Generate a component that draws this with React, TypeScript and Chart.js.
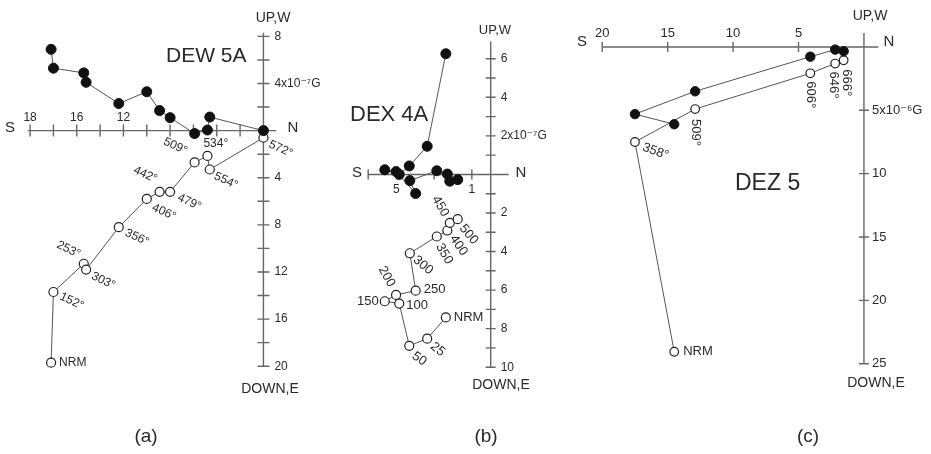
import { useEffect, useRef } from 'react';
import { Chart, registerables } from 'chart.js';
Chart.register(...registerables);

const PAGE_H = 454;
const FONT = '"Liberation Sans", "DejaVu Sans", Arial, sans-serif';
const TEXT_COLOR = '#2a2a2a';
const AXIS_COLOR = '#666';
const LINE_COLOR = '#555';

// ---------- (a) DEW 5A : units 1e-7 G ----------
const stepsA = ['NRM', '152°', '253°', '303°', '356°', '406°', '442°', '479°', '509°', '534°', '554°', '572°'];
const northA = [-18.2, -18.0, -15.4, -15.2, -12.4, -10.0, -8.9, -8.0, -5.9, -4.8, -4.6, 0];
const westA = [6.9, 5.3, 4.9, 4.1, 2.3, 3.3, 1.7, 1.1, -0.25, 0.05, 1.15, 0];
const upA = [-19.7, -13.7, -11.3, -11.8, -8.2, -5.8, -5.2, -5.2, -2.7, -2.15, -3.3, -0.6];
const xTicksA = [-20, -18, -16, -14, -12, -10, -8, -6, -4, -2];
const yTicksA = [8, 6, 4, 2, -2, -4, -6, -8, -10, -12, -14, -16, -18, -20];
const xLabelValsA = [-20, -16, -12];
const xLabelTextsA = ['18', '16', '12'];
const yLabelValsA = [8, 4, -4, -8, -12, -16, -20];
const yLabelTextsA = ['8', '4x10⁻⁷G', '4', '8', '12', '16', '20'];

// ---------- (b) DEX 4A : units 1e-7 G ----------
const stepsB = ['NRM', '25', '50', '100', '150', '200', '250', '300', '350', '400', '450', '500'];
const northB = [-2.38, -3.37, -4.32, -4.85, -5.62, -5.02, -3.98, -4.29, -2.86, -2.3, -2.17, -1.75];
const westB = [6.26, 1.46, 0.44, 0.0, 0.24, 0.15, -0.99, -0.32, 0.19, 0.02, -0.35, -0.27];
const upB = [-7.42, -8.52, -8.89, -6.7, -6.58, -6.25, -6.03, -4.09, -3.22, -2.91, -2.51, -2.32];
const xTicksB = [-6.5, -5, -3, -1];
const yTicksB = [6, 5, 4, 3, 2, 1, -1, -2, -3, -4, -5, -6, -7, -8, -9, -10];
const xLabelValsB = [-5, -1];
const xLabelTextsB = ['5', '1'];
const yLabelValsB = [6, 4, 2, -2, -4, -6, -8, -10];
const yLabelTextsB = ['6', '4', '2x10⁻⁷G', '2', '4', '6', '8', '10'];

// ---------- (c) DEZ 5 : units 1e-6 G ----------
const stepsC = ['NRM', '358°', '509°', '606°', '646°', '666°'];
const northC = [-14.5, -17.5, -12.9, -4.1, -2.2, -1.55];
const westC = [-6.1, -5.3, -3.5, -0.77, -0.21, -0.34];
const upC = [-24.05, -7.5, -4.9, -2.08, -1.31, -1.05];
const xTicksC = [-20, -15, -10, -5];
const yTicksC = [-5, -10, -15, -20, -25];
const xLabelValsC = [-20, -15, -10, -5];
const xLabelTextsC = ['20', '15', '10', '5'];
const yLabelValsC = [-5, -10, -15, -20, -25];
const yLabelTextsC = ['5x10⁻⁶G', '10', '15', '20', '25'];

type Lbl = [number, number, number, CanvasTextAlign]; // dx, dy, rotation(deg), align
interface Txt { t: string; x: number; y: number; size: number; align: CanvasTextAlign }
interface Panel {
  key: string; left: number; width: number; ox: number; oy: number; sx: number; sy: number;
  steps: string[]; north: number[]; west: number[]; up: number[];
  labelPos: Lbl[]; stepFont: number; radius: number; openRadius: number;
  xAxis: [number, number]; yAxis: [number, number];
  xTicks: number[]; yTicks: number[]; tickHalf: number;
  xLabelVals: number[]; xLabelTexts: string[]; xLabelDy: number;
  yLabelVals: number[]; yLabelTexts: string[]; yLabelDx: number; tickFont: number;
  texts: Txt[];
}

const panels: Panel[] = [
  {
    key: 'a', left: 0, width: 335, ox: 267, oy: 128, sx: 12.1, sy: 12.1,
    steps: stepsA, north: northA, west: westA, up: upA,
    labelPos: [
      [8, 0, 0, 'left'], [7, 4, 25, 'left'], [-4, -9, 25, 'right'], [6, 6, 25, 'left'],
      [7, 5, 25, 'left'], [6, 8, 25, 'left'], [-3, -12, 25, 'right'], [8, 5, 25, 'left'],
      [-8, -11, 25, 'right'], [-4, -12, 0, 'left'], [5, 6, 25, 'left'], [6, 6, 25, 'left'],
    ],
    stepFont: 12, radius: 5, openRadius: 4.5,
    xAxis: [-20.2, 1.1], yAxis: [-20, 8.3], xTicks: xTicksA, yTicks: yTicksA, tickHalf: 6,
    xLabelVals: xLabelValsA, xLabelTexts: xLabelTextsA, xLabelDy: -13,
    yLabelVals: yLabelValsA, yLabelTexts: yLabelTextsA, yLabelDx: 11, tickFont: 12,
    texts: [
      { t: 'S', x: 10, y: 128, size: 15, align: 'center' },
      { t: 'N', x: 293, y: 128, size: 15, align: 'center' },
      { t: 'UP,W', x: 273, y: 18, size: 14, align: 'center' },
      { t: 'DOWN,E', x: 270, y: 389, size: 14, align: 'center' },
      { t: 'DEW 5A', x: 166, y: 56, size: 21, align: 'left' },
      { t: '(a)', x: 146, y: 437, size: 19, align: 'center' },
    ],
  },
  {
    key: 'b', left: 320, width: 250, ox: 493, oy: 173, sx: 19.8, sy: 19.8,
    steps: stepsB, north: northB, west: westB, up: upB,
    labelPos: [
      [8, 0, 0, 'left'], [5, 6, 40, 'left'], [4, 9, 35, 'left'], [7, 2, 0, 'left'],
      [-6, 0, 0, 'right'], [-4, -9, 60, 'right'], [8, -1, 0, 'left'], [5, 5, 40, 'left'],
      [2, 8, 60, 'left'], [5, 6, 55, 'left'], [-4, -7, 60, 'right'], [4, 7, 50, 'left'],
    ],
    stepFont: 13, radius: 5, openRadius: 4.5,
    xAxis: [-6.5, 0.95], yAxis: [-10, 6.9], xTicks: xTicksB, yTicks: yTicksB, tickHalf: 5,
    xLabelVals: xLabelValsB, xLabelTexts: xLabelTextsB, xLabelDy: 15,
    yLabelVals: yLabelValsB, yLabelTexts: yLabelTextsB, yLabelDx: 10, tickFont: 12,
    texts: [
      { t: 'S', x: 357, y: 173, size: 15, align: 'center' },
      { t: 'N', x: 521, y: 173, size: 15, align: 'center' },
      { t: 'UP,W', x: 495, y: 30, size: 13, align: 'center' },
      { t: 'DOWN,E', x: 501, y: 385, size: 14, align: 'center' },
      { t: 'DEX 4A', x: 350, y: 115, size: 22, align: 'left' },
      { t: '(b)', x: 486, y: 437, size: 19, align: 'center' },
    ],
  },
  {
    key: 'c', left: 560, width: 371, ox: 867.7, oy: 42.3, sx: 13.5, sy: 13.0,
    steps: stepsC, north: northC, west: westC, up: upC,
    labelPos: [
      [9, 0, 0, 'left'], [8, 5, 20, 'left'], [0, 10, 90, 'left'], [0, 8, 90, 'left'],
      [-2, 8, 90, 'left'], [3, 9, 90, 'left'],
    ],
    stepFont: 13, radius: 4.7, openRadius: 4.3,
    xAxis: [-20, 1.1], yAxis: [-25, 1.1], xTicks: xTicksC, yTicks: yTicksC, tickHalf: 5,
    xLabelVals: xLabelValsC, xLabelTexts: xLabelTextsC, xLabelDy: -14,
    yLabelVals: yLabelValsC, yLabelTexts: yLabelTextsC, yLabelDx: 8, tickFont: 13,
    texts: [
      { t: 'S', x: 582, y: 42, size: 15, align: 'center' },
      { t: 'N', x: 889, y: 42, size: 15, align: 'center' },
      { t: 'UP,W', x: 870, y: 16, size: 14, align: 'center' },
      { t: 'DOWN,E', x: 876, y: 383, size: 14, align: 'center' },
      { t: 'DEZ 5', x: 735, y: 184, size: 23, align: 'left' },
      { t: '(c)', x: 808, y: 437, size: 19, align: 'center' },
    ],
  },
];

function makePlugin(p: Panel) {
  return {
    id: 'zij_' + p.key,
    beforeDatasetsDraw(chart: any) {
      const ctx: CanvasRenderingContext2D = chart.ctx;
      const X = (v: number) => chart.scales.x.getPixelForValue(v);
      const Y = (v: number) => chart.scales.y.getPixelForValue(v);
      const x0 = X(0), y0 = Y(0);
      ctx.save();
      ctx.strokeStyle = AXIS_COLOR;
      ctx.lineWidth = 1.4;
      ctx.beginPath();
      ctx.moveTo(X(p.xAxis[0]), y0); ctx.lineTo(X(p.xAxis[1]), y0);
      ctx.moveTo(x0, Y(p.yAxis[1])); ctx.lineTo(x0, Y(p.yAxis[0]));
      p.xTicks.forEach(v => { ctx.moveTo(X(v), y0 - p.tickHalf); ctx.lineTo(X(v), y0 + p.tickHalf); });
      p.yTicks.forEach(v => { ctx.moveTo(x0 - p.tickHalf, Y(v)); ctx.lineTo(x0 + p.tickHalf, Y(v)); });
      ctx.stroke();
      ctx.fillStyle = TEXT_COLOR;
      ctx.font = `${p.tickFont}px ${FONT}`;
      ctx.textBaseline = 'middle';
      ctx.textAlign = 'center';
      p.xLabelVals.forEach((v, i) => ctx.fillText(p.xLabelTexts[i], X(v), y0 + p.xLabelDy));
      ctx.textAlign = 'left';
      p.yLabelVals.forEach((v, i) => ctx.fillText(p.yLabelTexts[i], x0 + p.yLabelDx, Y(v)));
      p.texts.forEach(t => {
        ctx.font = `${t.size}px ${FONT}`;
        ctx.textAlign = t.align;
        ctx.fillText(t.t, t.x - p.left, t.y);
      });
      ctx.restore();
    },
    afterDatasetsDraw(chart: any) {
      const ctx: CanvasRenderingContext2D = chart.ctx;
      const X = (v: number) => chart.scales.x.getPixelForValue(v);
      const Y = (v: number) => chart.scales.y.getPixelForValue(v);
      ctx.save();
      ctx.fillStyle = TEXT_COLOR;
      ctx.font = `${p.stepFont}px ${FONT}`;
      ctx.textBaseline = 'middle';
      p.steps.forEach((s, i) => {
        const [dx, dy, rot, align] = p.labelPos[i];
        ctx.save();
        ctx.translate(X(p.north[i]) + dx, Y(p.up[i]) + dy);
        ctx.rotate((rot * Math.PI) / 180);
        ctx.textAlign = align;
        ctx.fillText(s, 0, 0);
        ctx.restore();
      });
      ctx.restore();
    },
  };
}

function ZPanel({ p }: { p: Panel }) {
  const ref = useRef<HTMLCanvasElement>(null);
  useEffect(() => {
    const c = ref.current!;
    const xmin = (p.left - p.ox) / p.sx;
    const xmax = (p.left + p.width - p.ox) / p.sx;
    const ymax = p.oy / p.sy;
    const ymin = (p.oy - PAGE_H) / p.sy;
    const chart = new Chart(c, {
      type: 'scatter',
      data: {
        datasets: [
          {
            data: p.north.map((n, i) => ({ x: n, y: p.west[i] })),
            showLine: true, borderColor: LINE_COLOR, borderWidth: 1, tension: 0,
            pointRadius: p.radius, pointBackgroundColor: '#111', pointBorderColor: '#111', pointBorderWidth: 1,
          },
          {
            data: p.north.map((n, i) => ({ x: n, y: p.up[i] })),
            showLine: true, borderColor: LINE_COLOR, borderWidth: 1, tension: 0,
            pointRadius: p.openRadius, pointBackgroundColor: '#fff', pointBorderColor: '#222', pointBorderWidth: 1.2,
          },
        ],
      },
      options: {
        animation: false,
        responsive: false,
        maintainAspectRatio: false,
        devicePixelRatio: 1,
        events: [],
        layout: { padding: 0 },
        scales: {
          x: { type: 'linear', display: false, min: xmin, max: xmax },
          y: { type: 'linear', display: false, min: ymin, max: ymax },
        },
        plugins: { legend: { display: false }, tooltip: { enabled: false } },
      },
      plugins: [makePlugin(p)],
    } as any);
    return () => chart.destroy();
  }, [p]);
  return (
    <canvas
      ref={ref}
      width={p.width}
      height={PAGE_H}
      style={{ position: 'absolute', left: p.left, top: 0, width: p.width, height: PAGE_H }}
    />
  );
}

export default function App() {
  return (
    <div style={{ position: 'fixed', left: 0, top: 0, width: 931, height: PAGE_H, background: '#fff', overflow: 'hidden' }}>
      {panels.map(p => <ZPanel key={p.key} p={p} />)}
    </div>
  );
}
